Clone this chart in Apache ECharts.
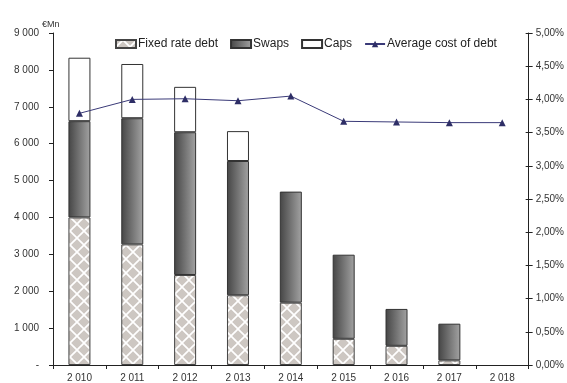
<!DOCTYPE html>
<html>
<head>
<meta charset="utf-8">
<script src="https://cdn.jsdelivr.net/npm/echarts@6/dist/echarts.min.js"></script>
<style>html,body{margin:0;padding:0;background:#fff}#c{width:567px;height:383px}</style>
</head>
<body>
<div id="c"></div>
<script>
const categories = ['2 010','2 011','2 012','2 013','2 014','2 015','2 016','2 017','2 018'];
const fixedRateDebt = [4000, 3270, 2440, 1890, 1690, 710, 520, 125, 0];
const swaps = [2610, 3420, 3870, 3640, 3010, 2280, 1000, 995, 0];
const caps = [1720, 1470, 1230, 810, 0, 0, 0, 0, 0];
const avgCost = [3.79, 4.00, 4.01, 3.98, 4.05, 3.67, 3.66, 3.65, 3.65];

const nz = arr => arr.map(v => v === 0 ? null : v);

function makePattern(){
  const s = 14, r = 5.8;
  const cv = document.createElement('canvas');
  cv.width = s; cv.height = s;
  const ctx = cv.getContext('2d');
  ctx.fillStyle = '#ffffff'; ctx.fillRect(0,0,s,s);
  ctx.fillStyle = '#cdc7c2';
  const centers = [[0,0],[s,0],[0,s],[s,s],[s/2,s/2]];
  centers.forEach(([x,y])=>{
    ctx.beginPath();
    ctx.moveTo(x, y-r); ctx.lineTo(x+r, y); ctx.lineTo(x, y+r); ctx.lineTo(x-r, y); ctx.closePath();
    ctx.fill();
  });
  return cv;
}
const pattern = {image: makePattern(), repeat: 'repeat'};
const swapGrad = new echarts.graphic.LinearGradient(0,0,1,0,[
  {offset:0,color:'#454545'},{offset:1,color:'#a3a3a3'}
]);

const chart = echarts.init(document.getElementById('c'), null, {renderer:'canvas'});
const font = 'Liberation Sans, Arial, sans-serif';
chart.setOption({
  animation:false,
  textStyle:{fontFamily:font},
  title:{text:'€Mn', left:37, top:15, textStyle:{fontSize:9, fontWeight:'normal', color:'#333', fontFamily:font}},
  legend:{
    top:33, left:110, itemWidth:20, itemHeight:8, itemGap:12,
    textStyle:{fontSize:12, color:'#222', fontFamily:font, padding:[0,0,0,-3]},
    data:[
      {name:'Fixed rate debt', icon:'rect'},
      {name:'Swaps', icon:'rect'},
      {name:'Caps', icon:'rect'},
      {name:'Average cost of debt'}
    ]
  },
  grid:{left:53, right:33, top:33, bottom:15, containLabel:false},
  xAxis:{
    type:'category', data:categories, boundaryGap:true,
    axisLine:{lineStyle:{color:'#222', width:1}},
    axisTick:{show:true, interval:0, length:4, lineStyle:{color:'#222'}},
    axisLabel:{interval:0, fontSize:10, color:'#333', margin:8, fontFamily:font}
  },
  yAxis:[
    {type:'value', min:0, max:9000, interval:1000, position:'left',
     splitLine:{show:false},
     axisLine:{show:true, lineStyle:{color:'#222'}},
     axisTick:{show:true, length:4, lineStyle:{color:'#222'}},
     axisLabel:{fontSize:10, color:'#333', margin:14, fontFamily:font,
       formatter:v=> v===0 ? '-' : String(v).replace(/\B(?=(\d{3})+(?!\d))/g,' ')}
    },
    {type:'value', min:0, max:5, interval:0.5, position:'right',
     splitLine:{show:false},
     axisLine:{show:true, lineStyle:{color:'#222'}},
     axisTick:{show:true, length:4, lineStyle:{color:'#222'}},
     axisLabel:{fontSize:10, color:'#333', margin:7, fontFamily:font,
       formatter:v=> v.toFixed(2).replace('.',',')+'%'}
    },
    {type:'value', min:0, max:5, interval:0.5, position:'right',
     splitLine:{show:false},
     axisLine:{show:false},
     axisTick:{show:true, inside:true, length:3, lineStyle:{color:'#222'}},
     axisLabel:{show:false}
    }
  ],
  series:[
    {name:'Fixed rate debt', type:'bar', stack:'d', barWidth:22, data:nz(fixedRateDebt),
     itemStyle:{color:pattern, borderColor:'#444', borderWidth:1}},
    {name:'Swaps', type:'bar', stack:'d', barWidth:22, data:nz(swaps),
     itemStyle:{color:swapGrad, borderColor:'#333', borderWidth:1}},
    {name:'Caps', type:'bar', stack:'d', barWidth:22, data:nz(caps),
     itemStyle:{color:'#ffffff', borderColor:'#333', borderWidth:1}},
    {name:'Average cost of debt', type:'line', yAxisIndex:1, data:avgCost,
     symbol:'triangle', symbolSize:7,
     lineStyle:{color:'#3a3a78', width:1},
     itemStyle:{color:'#2e2e66'}}
  ]
});
</script>
</body>
</html>
